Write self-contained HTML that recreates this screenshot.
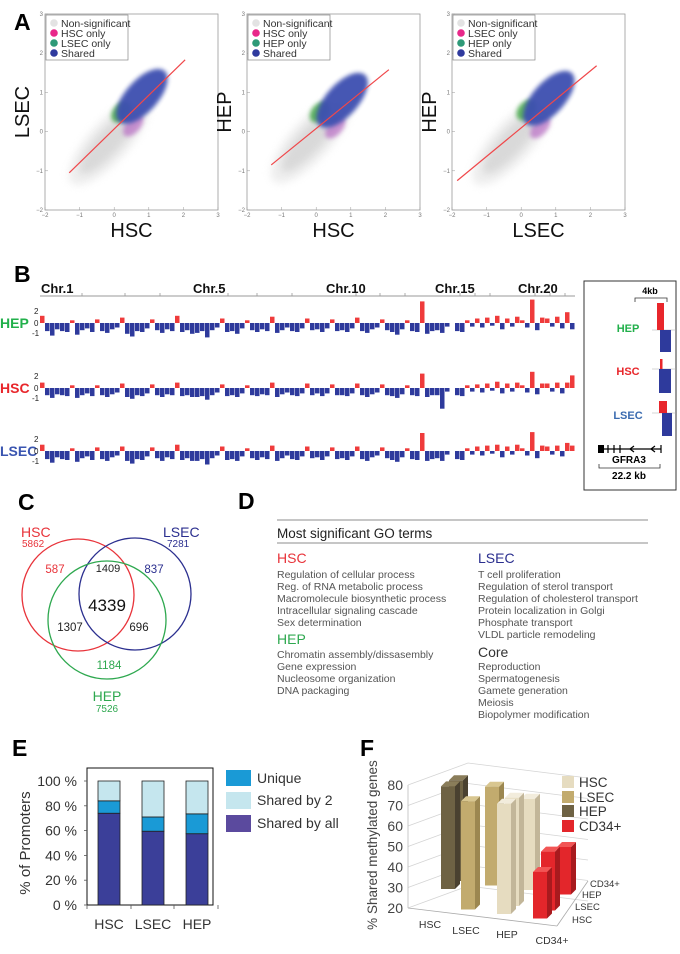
<!DOCTYPE html>
<html><head><meta charset="utf-8"><style>
html,body{margin:0;padding:0;background:#fff;}
svg{display:block;font-family:"Liberation Sans",sans-serif;}
.pl{font-weight:bold;font-size:23px;fill:#000;}
.go{font-size:10.5px;fill:#555;}
</style></head><body>
<svg id="fig" width="680" height="954" viewBox="0 0 680 954" xmlns="http://www.w3.org/2000/svg">
<defs>
<filter id="bl4" x="-50%" y="-50%" width="200%" height="200%"><feGaussianBlur stdDeviation="4"/></filter>
<filter id="bl2" x="-50%" y="-50%" width="200%" height="200%"><feGaussianBlur stdDeviation="2"/></filter>
</defs>
<text class="pl" x="14" y="30">A</text>
<text class="pl" x="14" y="282">B</text>
<text class="pl" x="18" y="510">C</text>
<text class="pl" x="238" y="509">D</text>
<text class="pl" x="12" y="756">E</text>
<text class="pl" x="360" y="756">F</text>

<g id="panelA"></g>
<g id="panelB"></g>

<g>
<rect x="584" y="281" width="92" height="209" fill="none" stroke="#333" stroke-width="1"/>
<text x="650" y="294" font-size="9" font-weight="bold" text-anchor="middle">4kb</text>
<path d="M635 302 V298 H667 V302" fill="none" stroke="#333" stroke-width="0.8"/>
<text x="628" y="332" font-size="11" font-weight="bold" fill="#22b04b" text-anchor="middle">HEP</text>
<line x1="652" y1="330" x2="676" y2="330" stroke="#aaa" stroke-width="0.6"/>
<rect x="657" y="303" width="7" height="27" fill="#e8262b"/>
<rect x="660" y="330" width="11" height="22" fill="#2e3a9c"/>
<text x="628" y="375" font-size="11" font-weight="bold" fill="#e8262b" text-anchor="middle">HSC</text>
<line x1="652" y1="369" x2="676" y2="369" stroke="#aaa" stroke-width="0.6"/>
<rect x="660" y="359" width="2.5" height="10" fill="#e8262b"/>
<rect x="659" y="369" width="12" height="24" fill="#2e3a9c"/>
<text x="628" y="419" font-size="11" font-weight="bold" fill="#3a6bb0" text-anchor="middle">LSEC</text>
<line x1="652" y1="413" x2="676" y2="413" stroke="#aaa" stroke-width="0.6"/>
<rect x="659" y="401" width="8" height="12" fill="#e8262b"/>
<rect x="662" y="413" width="10" height="23" fill="#2e3a9c"/>
<rect x="598" y="445" width="6" height="8" fill="#000"/>
<line x1="598" y1="449" x2="661" y2="449" stroke="#000" stroke-width="1.2"/>
<path d="M608 445V453M614 445V453M620 445V453M661 445V453M634 446L630 449L634 452M655 446L651 449L655 452" stroke="#000" stroke-width="1.2" fill="none"/>
<text x="629" y="463" font-size="10" font-weight="bold" text-anchor="middle">GFRA3</text>
<path d="M599 464V468H660V464" fill="none" stroke="#333" stroke-width="0.8"/>
<text x="629" y="479" font-size="10" font-weight="bold" text-anchor="middle">22.2 kb</text>
</g>

<g>
<circle cx="78" cy="595" r="56" fill="none" stroke="#e8333a" stroke-width="1.3"/>
<circle cx="135" cy="594" r="56" fill="none" stroke="#2b2f8f" stroke-width="1.3"/>
<circle cx="107" cy="620" r="59" fill="none" stroke="#2ea84f" stroke-width="1.3"/>
<text x="21" y="537" font-size="14" fill="#e8333a">HSC</text>
<text x="22" y="547" font-size="10" fill="#e8333a">5862</text>
<text x="163" y="537" font-size="14" fill="#2b2f8f">LSEC</text>
<text x="167" y="547" font-size="10" fill="#2b2f8f">7281</text>
<text x="55" y="573" font-size="11.5" fill="#e8333a" text-anchor="middle">587</text>
<text x="108" y="572" font-size="11" fill="#222" text-anchor="middle">1409</text>
<text x="154" y="573" font-size="11.5" fill="#2b2f8f" text-anchor="middle">837</text>
<text x="107" y="611" font-size="17" fill="#111" text-anchor="middle">4339</text>
<text x="70" y="631" font-size="11.5" fill="#222" text-anchor="middle">1307</text>
<text x="139" y="631" font-size="11.5" fill="#222" text-anchor="middle">696</text>
<text x="109" y="669" font-size="11.5" fill="#2ea84f" text-anchor="middle">1184</text>
<text x="107" y="701" font-size="14" fill="#2ea84f" text-anchor="middle">HEP</text>
<text x="107" y="712" font-size="10" fill="#2ea84f" text-anchor="middle">7526</text>
</g>

<g>
<line x1="277" y1="520" x2="648" y2="520" stroke="#666" stroke-width="0.8"/>
<text x="277" y="538" font-size="13.5" fill="#222">Most significant GO terms</text>
<line x1="277" y1="543" x2="648" y2="543" stroke="#666" stroke-width="0.8"/>
<text x="277" y="563" font-size="14" fill="#e8333a">HSC</text>
<text class="go" x="277" y="578">Regulation of cellular process</text>
<text class="go" x="277" y="590">Reg. of RNA metabolic process</text>
<text class="go" x="277" y="602">Macromolecule biosynthetic process</text>
<text class="go" x="277" y="614">Intracellular signaling cascade</text>
<text class="go" x="277" y="626">Sex determination</text>
<text x="277" y="644" font-size="14" fill="#2ea84f">HEP</text>
<text class="go" x="277" y="658">Chromatin assembly/dissasembly</text>
<text class="go" x="277" y="670">Gene expression</text>
<text class="go" x="277" y="682">Nucleosome organization</text>
<text class="go" x="277" y="694">DNA packaging</text>
<text x="478" y="563" font-size="14" fill="#2b2f8f">LSEC</text>
<text class="go" x="478" y="578">T cell proliferation</text>
<text class="go" x="478" y="590">Regulation of sterol transport</text>
<text class="go" x="478" y="602">Regulation of cholesterol transport</text>
<text class="go" x="478" y="614">Protein localization in Golgi</text>
<text class="go" x="478" y="626">Phosphate transport</text>
<text class="go" x="478" y="638">VLDL particle remodeling</text>
<text x="478" y="657" font-size="14" fill="#333">Core</text>
<text class="go" x="478" y="670">Reproduction</text>
<text class="go" x="478" y="682">Spermatogenesis</text>
<text class="go" x="478" y="694">Gamete generation</text>
<text class="go" x="478" y="706" font-size="11.5">Meiosis</text>
<text class="go" x="478" y="718">Biopolymer modification</text>
</g>

<g id="panelE"></g>
<g id="panelF"></g>
</svg>
<script>
const scatterXTitles = ['HSC','HSC','LSEC'];
const scatterYTitles = ['LSEC','HEP','HEP'];
const scatterLegend2 = ['HSC only','HSC only','LSEC only'];
const scatterLegend3 = ['LSEC only','HEP only','HEP only'];
const fitStartX = [-1.3,-1.3,-1.85];
const fitStartY = [-1.05,-0.85,-1.25];
const fitEndX = [2.05,2.1,2.18];
const fitEndY = [1.83,1.58,1.68];
const grayX = [-0.15,-0.15,-0.25];
const grayY = [-0.25,-0.2,-0.25];
const blueX = [0.8,0.75,0.8];
const blueY = [0.9,0.8,0.85];
const greenX = [0.2,0.1,0.15];
const greenY = [0.5,0.5,0.55];
const pinkX = [0.55,0.55,0.55];
const pinkY = [0.15,0.1,0.1];
const axisTicks = [-2,-1,0,1,2,3];

const trackNames = ['HEP','HSC','LSEC'];
const hepVals = [0.8,-0.9,-1.4,-0.7,-0.9,-1.0,0.3,-1.3,-0.8,-0.6,-1.0,0.4,-0.9,-1.1,-0.7,-0.5,0.6,-1.2,-1.5,-0.9,-1.0,-0.6,0.4,-0.8,-1.1,-0.7,-0.9,0.8,-1.0,-0.8,
 -1.2,-1.1,-0.9,-1.6,-0.8,-0.5,0.5,-1.0,-0.9,-1.2,-0.6,0.3,-0.8,-1.0,-0.7,-0.9,0.7,-1.1,-0.8,-0.5,-0.9,-1.0,-0.6,0.5,-0.8,-0.7,-1.0,-0.6,0.4,-0.9,
 -0.8,-1.0,-0.6,0.6,-0.9,-1.1,-0.7,-0.5,0.4,-0.8,-1.0,-1.3,-0.7,0.3,-0.9,-1.0,2.4,-1.2,-0.9,-0.8,-1.1,-0.4,0,-0.9,-1.0,
 0.3,-0.4,0.5,-0.5,0.6,-0.3,0.8,-0.7,0.5,-0.4,0.7,0.3,-0.5,2.6,-0.8,0.6,0.5,-0.4,0.7,-0.6,1.2,-0.7];
const hscVals = [0.6,-0.8,-1.1,-0.7,-0.8,-0.9,0.3,-1.1,-0.8,-0.6,-0.9,0.3,-0.8,-1.0,-0.7,-0.5,0.5,-1.0,-1.2,-0.8,-0.9,-0.6,0.4,-0.8,-1.0,-0.7,-0.8,0.6,-0.9,-0.8,
 -1.0,-1.0,-0.9,-1.3,-0.8,-0.5,0.4,-0.9,-0.8,-1.0,-0.6,0.3,-0.8,-0.9,-0.7,-0.8,0.6,-1.0,-0.7,-0.5,-0.8,-0.9,-0.6,0.5,-0.8,-0.6,-0.9,-0.6,0.4,-0.8,
 -0.8,-0.9,-0.6,0.5,-0.8,-1.0,-0.7,-0.5,0.4,-0.8,-0.9,-1.1,-0.7,0.3,-0.8,-0.9,1.6,-1.0,-0.8,-0.8,-2.3,-0.4,0,-0.8,-0.9,
 0.3,-0.4,0.4,-0.5,0.5,-0.3,0.7,-0.6,0.5,-0.4,0.6,0.3,-0.5,1.8,-0.7,0.5,0.5,-0.4,0.6,-0.6,0.6,1.4];
const lsecVals = [0.7,-0.9,-1.3,-0.7,-0.9,-1.0,0.3,-1.2,-0.8,-0.6,-1.0,0.4,-0.9,-1.1,-0.7,-0.5,0.5,-1.1,-1.4,-0.9,-1.0,-0.6,0.4,-0.8,-1.1,-0.7,-0.9,0.7,-1.0,-0.8,
 -1.1,-1.1,-0.9,-1.5,-0.8,-0.5,0.5,-1.0,-0.9,-1.1,-0.6,0.3,-0.8,-1.0,-0.7,-0.9,0.6,-1.1,-0.8,-0.5,-0.9,-1.0,-0.6,0.5,-0.8,-0.7,-1.0,-0.6,0.4,-0.9,
 -0.8,-1.0,-0.6,0.5,-0.9,-1.1,-0.7,-0.5,0.4,-0.8,-1.0,-1.2,-0.7,0.3,-0.9,-1.0,2.0,-1.1,-0.9,-0.8,-1.1,-0.4,0,-0.9,-1.0,
 0.3,-0.4,0.5,-0.5,0.6,-0.3,0.7,-0.7,0.5,-0.4,0.7,0.3,-0.5,2.1,-0.8,0.6,0.5,-0.4,0.6,-0.6,0.9,0.6];
const chrLabels = ['Chr.1','Chr.5','Chr.10','Chr.15','Chr.20'];
const chrLabelX = [41,193,326,435,518];

const eCats = ['HSC','LSEC','HEP'];
const sharedAll = [74,59.5,57.5];
const uniqueV = [10,11.5,16];
const shared2 = [16,29,26.5];
const eTicks = [0,20,40,60,80,100];

const fCats = ['HSC','LSEC','HEP','CD34+'];
const fRows = ['HSC','LSEC','HEP','CD34+'];
const fBarCat = [0,0,1,1,2,2,2,3,3,3];
const fBarRow = [3,2,3,0,3,1,0,3,1,0];
const fBarVal = [73,74,72,77,68,77,78,45,51,44.5];
const fTicks = [20,30,40,50,60,70,80];

const NS = 'http://www.w3.org/2000/svg';
function mk(tag, attrs, parent){
  const e = document.createElementNS(NS, tag);
  for (const k in attrs) e.setAttribute(k, attrs[k]);
  parent.appendChild(e);
  return e;
}
function txt(parent, x, y, s, size, fill, anchor){
  const t = mk('text', {x:x, y:y, 'font-size':size, fill:fill, 'text-anchor':anchor||'start'}, parent);
  t.textContent = s;
  return t;
}

(function(){
  const g = document.getElementById('panelA');
  const lefts = [45,247,452];
  const top = 14, W = 173, H = 196;
  for (let p = 0; p < 3; p++) {
    const L = lefts[p];
    const sx = v => L + (v + 2) / 5 * W;
    const sy = v => top + (3 - v) / 5 * H;
    const pg = mk('g', {}, g);
    
    
    const fr = mk('rect', {x:L, y:top, width:W, height:H, fill:'#fff', stroke:'#999', 'stroke-width':0.8}, pg);
    
    
    axisTicks.forEach(t => {
      txt(pg, L - 2, sy(t) + 2, String(t).replace('-', '\u2212'), 6, '#777', 'end');
      txt(pg, sx(t), top + H + 7, String(t).replace('-', '\u2212'), 6, '#777', 'middle');
      mk('line', {x1:L, x2:L+3, y1:sy(t), y2:sy(t), stroke:'#999', 'stroke-width':0.5}, pg);
      mk('line', {x1:sx(t), x2:sx(t), y1:top+H, y2:top+H-3, stroke:'#999', 'stroke-width':0.5}, pg);
    });
    const ang = -48;
    function blob(cx, cy, rx, ry, fill, op, filt, name){
      const e = mk('ellipse', {cx:cx, cy:cy, rx:rx, ry:ry, fill:fill, opacity:op, filter:filt, transform:'rotate(' + ang + ' ' + cx + ' ' + cy + ')'}, pg);
      
      
    }
    blob(sx(grayX[p]), sy(grayY[p]), 56, 20, '#ececec', 0.9, 'url(#bl4)', 'nonsignificant-halo');
    blob(sx(grayX[p]), sy(grayY[p]), 42, 12, '#d6d6d6', 0.85, 'url(#bl4)', 'nonsignificant-cloud');
    blob(sx(pinkX[p]), sy(pinkY[p]), 13, 7, '#b86cc4', 0.7, 'url(#bl2)', 'row-only-cloud');
    blob(sx(greenX[p]), sy(greenY[p]), 12, 8, '#45a84a', 0.85, 'url(#bl2)', 'col-only-cloud');
    blob(sx(blueX[p]), sy(blueY[p]), 34, 16, '#3e4fb0', 0.95, 'url(#bl2)', 'shared-cloud');
    const ln = mk('line', {x1:sx(fitStartX[p]), y1:sy(fitStartY[p]), x2:sx(fitEndX[p]), y2:sy(fitEndY[p]), stroke:'#f0474a', 'stroke-width':1.2}, pg);
    
    
    const lg = mk('g', {}, pg);
    
    
    mk('rect', {x:L+1, y:top+1, width:82, height:45, fill:'#fff', stroke:'#888', 'stroke-width':0.7}, lg);
    const labs = ['Non-significant', scatterLegend2[p], scatterLegend3[p], 'Shared'];
    const cols = ['#e3e3e3','#e8288a','#2e9a78','#2f3a9e'];
    labs.forEach((s, i) => {
      mk('circle', {cx:L+9, cy:top+9+i*10, r:3.8, fill:cols[i]}, lg);
      txt(lg, L+16, top+13+i*10, s, 10.5, '#333');
    });
    const xt = txt(pg, L + W/2, 237, scatterXTitles[p], 20, '#111', 'middle');
    
    const yx = L - 16, yy = top + H/2;
    const yt = mk('text', {x:yx, y:yy, 'font-size':20, fill:'#111', 'text-anchor':'middle', transform:'rotate(-90 ' + yx + ' ' + yy + ')'}, pg);
    yt.textContent = scatterYTitles[p];
    
  }
})();

(function(){
  const g = document.getElementById('panelB');
  const x0 = 40, x1 = 575, axY = 296;
  mk('line', {x1:x0, x2:x1, y1:axY, y2:axY, stroke:'#999', 'stroke-width':1}, g);
  const ticks = [82,125,160,228,257,292,356,380,405,460,475,490,535,550,565];
  ticks.forEach(t => mk('line', {x1:t, x2:t, y1:axY, y2:axY-3, stroke:'#999', 'stroke-width':0.8}, g));
  chrLabels.forEach((s, i) => {
    const t = txt(g, chrLabelX[i], axY - 3, s, 13, '#111');
    t.setAttribute('font-weight', 'bold');
    
  });
  const bases = [323,388,451];
  const cols = ['#22b04b','#e8262b','#3a55b0'];
  const series = [hepVals, hscVals, lsecVals];
  const unit = 9;
  series.forEach((vals, k) => {
    const by = bases[k];
    const tg = mk('g', {}, g);
    
    
    const lab = txt(tg, 0, by + 5, trackNames[k], 14, cols[k]);
    lab.setAttribute('font-weight', 'bold');
    txt(tg, 34, by - 9, '2', 8, '#222');
    txt(tg, 34, by + 3, '0', 8, '#222');
    txt(tg, 32, by + 13, '-1', 8, '#222');
    const bw = (x1 - x0) / vals.length;
    vals.forEach((v, i) => {
      const h = Math.abs(v) * unit;
      const r = mk('rect', {x:x0 + i*bw, y: v > 0 ? by - h : by, width: bw*0.9, height: h, fill: v > 0 ? '#ef3b3b' : '#2e3a9c'}, tg);
      
      
    });
  });
})();

(function(){
  const g = document.getElementById('panelE');
  const L = 87, R = 213, T = 768, B = 905;
  const sy = v => B - v * 1.24;
  const cx = i => 109 + i * 44;
  mk('rect', {x:L, y:T, width:R-L, height:B-T, fill:'#fff', stroke:'#111', 'stroke-width':1}, g);
  eTicks.forEach(t => {
    txt(g, 77, sy(t) + 5, t + ' %', 14, '#333', 'end');
    mk('line', {x1:L-3, x2:L, y1:sy(t), y2:sy(t), stroke:'#555', 'stroke-width':0.8}, g);
  });
  [87,131,174,218].forEach(t => mk('line', {x1:t, x2:t, y1:B, y2:B+4, stroke:'#555', 'stroke-width':0.8}, g));
  eCats.forEach((c, i) => {
    const xl = txt(g, cx(i), 929, c, 14, '#333', 'middle');
    
    const segs = [[0, sharedAll[i], '#3b3f99', 'bar-shared-by-all'],
                  [sharedAll[i], sharedAll[i] + uniqueV[i], '#1a9ad6', 'bar-unique'],
                  [sharedAll[i] + uniqueV[i], sharedAll[i] + uniqueV[i] + shared2[i], '#c5e6ee', 'bar-shared-by-2']];
    segs.forEach(s => {
      const r = mk('rect', {x:cx(i) - 11, y:sy(s[1]), width:22, height:sy(s[0]) - sy(s[1]), fill:s[2], stroke:'#222', 'stroke-width':0.8}, g);
      
      
    });
  });
  const yt = mk('text', {x:30, y:843, 'font-size':15, fill:'#333', 'text-anchor':'middle', transform:'rotate(-90 30 843)'}, g);
  yt.textContent = '% of Promoters';
  
  const leg = [['Unique','#1a9ad6',770,16],['Shared by 2','#c5e6ee',792,17],['Shared by all','#5b4a9e',815,17]];
  leg.forEach(l => {
    const r = mk('rect', {x:226, y:l[2], width:25, height:l[3], fill:l[1]}, g);
    
    
    txt(g, 257, l[2] + 13, l[0], 14, '#333');
  });
})();

(function(){
  const g = document.getElementById('panelF');
  const vy = v => 908 - (v - 20) * 2.05;
  fTicks.forEach(t => {
    const y = vy(t);
    mk('polyline', {points:'408,' + y + ' 468,' + (y-22) + ' 588,' + (y-7), fill:'none', stroke:'#d4d4d4', 'stroke-width':0.8}, g);
    txt(g, 403, y + 5, String(t), 14, '#444', 'end');
  });
  mk('line', {x1:408, y1:vy(80), x2:408, y2:908, stroke:'#bbb', 'stroke-width':0.8}, g);
  mk('line', {x1:408, y1:908, x2:557, y2:926, stroke:'#aaa', 'stroke-width':0.8}, g);
  mk('line', {x1:557, y1:926, x2:588, y2:881, stroke:'#aaa', 'stroke-width':0.8}, g);
  const colors = [['#6e6244','#4a4130','#8a7d5a'],['#c2ab6e','#9c8750','#d8c690'],['#e6dcc0','#c2b699','#f2ecdc'],['#e3262b','#a81a1e','#f25555']];
  const px = (c, d) => 432 + c*36 + d*8;
  const py = (c, d) => 905 + c*4.5 - d*8;
  const order = fBarVal.map((v, i) => i).sort((a, b) => (fBarRow[b] - fBarRow[a]) || (fBarCat[a] - fBarCat[b]));
  order.forEach(i => {
    const c = fBarCat[i], d = fBarRow[i];
    const x = px(c, d), base = py(c, d), top = base - (fBarVal[i] - 20) * 1.9;
    const col = colors[c];
    const bg = mk('g', {}, g);
    
    
    mk('polygon', {points:(x+7)+','+top+' '+(x+12)+','+(top-5)+' '+(x+12)+','+(base-5)+' '+(x+7)+','+base, fill:col[1]}, bg);
    mk('polygon', {points:(x-7)+','+top+' '+(x+7)+','+top+' '+(x+12)+','+(top-5)+' '+(x-2)+','+(top-5), fill:col[2]}, bg);
    mk('rect', {x:x-7, y:top, width:14, height:base-top, fill:col[0]}, bg);
  });
  const catPos = [[430,928],[466,934],[507,938],[552,944]];
  fCats.forEach((c, i) => {
    const t = txt(g, catPos[i][0], catPos[i][1], c, 10.5, '#333', 'middle');
    
  });
  const rowPos = [[572,923],[575,910],[582,898],[590,887]];
  fRows.forEach((c, i) => {
    const t = txt(g, rowPos[i][0], rowPos[i][1], c, 9.5, '#333');
    
  });
  const yt = mk('text', {x:377, y:845, 'font-size':13.5, fill:'#444', 'text-anchor':'middle', transform:'rotate(-90 377 845)'}, g);
  yt.textContent = '% Shared methylated genes';
  
  const leg = [['HSC','#e6dcc0',776],['LSEC','#c2ab6e',791],['HEP','#6e6244',805],['CD34+','#e3262b',820]];
  leg.forEach(l => {
    const r = mk('rect', {x:562, y:l[2], width:12, height:12, fill:l[1]}, g);
    
    
    txt(g, 579, l[2] + 11, l[0], 13.5, '#333');
  });
})();
</script>
</body></html>
